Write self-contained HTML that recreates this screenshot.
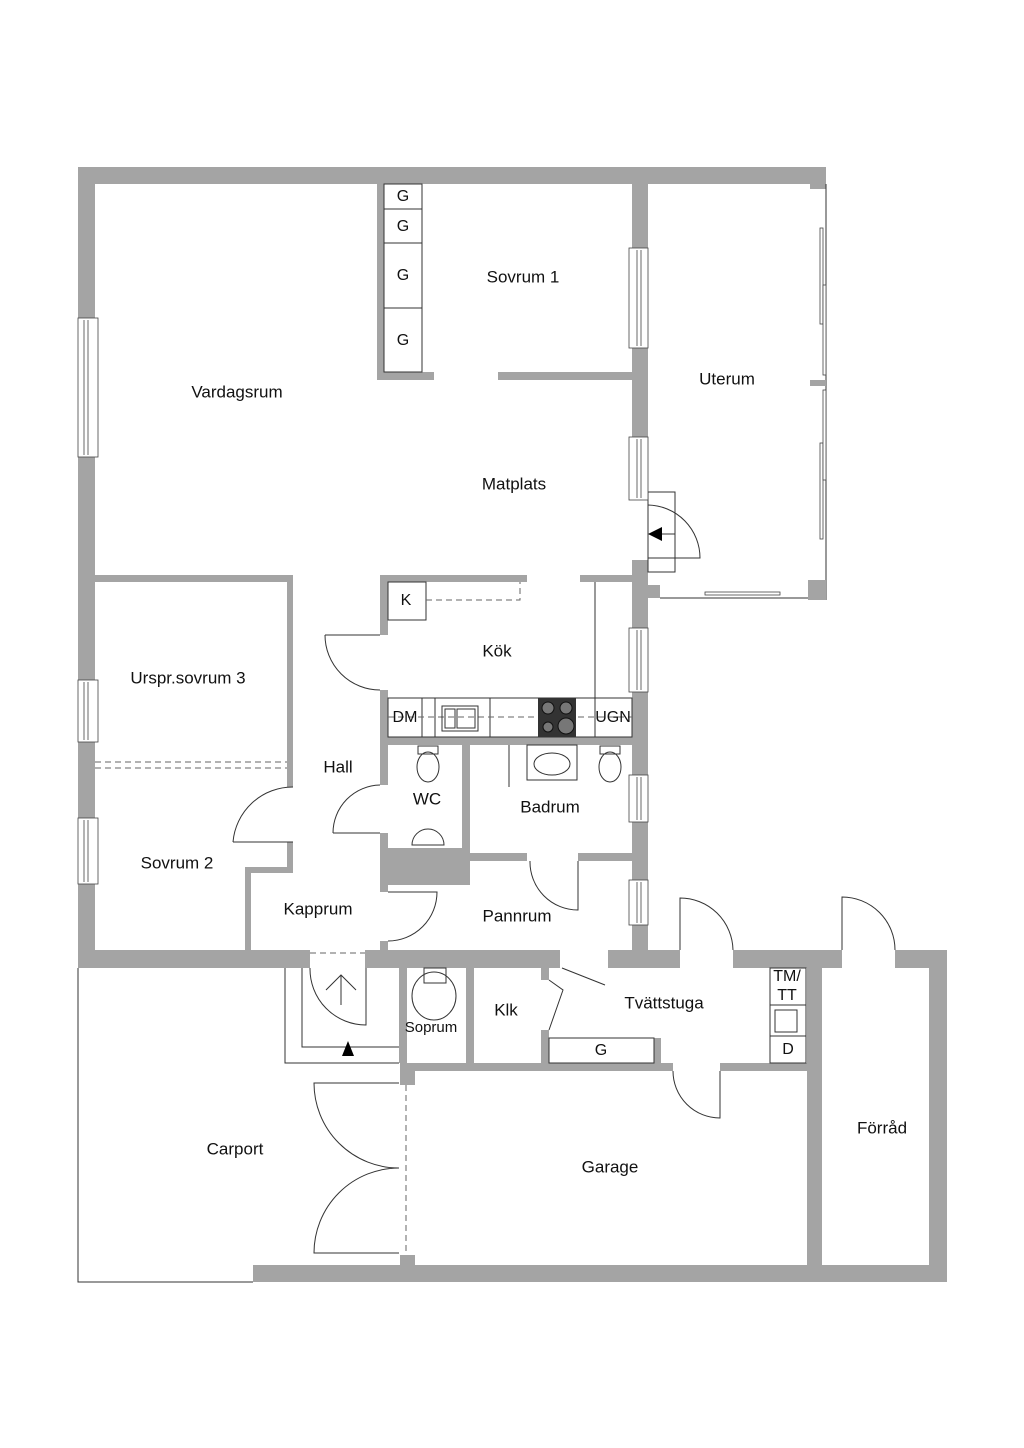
<!DOCTYPE html>
<html><head><meta charset="utf-8"><style>
html,body{margin:0;padding:0;background:#fff}
svg{display:block}
text{font-family:"Liberation Sans",sans-serif;fill:#111;text-anchor:middle;dominant-baseline:middle}
.w{fill:#a4a4a4;stroke:none}
.l{fill:none;stroke:#333;stroke-width:1}
.d{fill:none;stroke:#666;stroke-width:1;stroke-dasharray:6 4}
.win{fill:#fff;stroke:#444;stroke-width:0.8}
</style></head><body>
<svg width="1024" height="1448" viewBox="0 0 1024 1448" xmlns="http://www.w3.org/2000/svg">
<rect class="w" x="78" y="167" width="748" height="17"/>
<rect class="w" x="810" y="184" width="16" height="5"/>
<rect class="w" x="78" y="167" width="17" height="801"/>
<rect class="w" x="78" y="950" width="232" height="18"/>
<rect class="w" x="365" y="950" width="195" height="18"/>
<rect class="w" x="608" y="950" width="72" height="18"/>
<rect class="w" x="733" y="950" width="109" height="18"/>
<rect class="w" x="895" y="950" width="52" height="18"/>
<rect class="w" x="929" y="950" width="18" height="332"/>
<rect class="w" x="253" y="1265" width="694" height="17"/>
<rect class="w" x="807" y="968" width="15" height="297"/>
<rect class="w" x="399" y="968" width="8" height="95"/>
<rect class="w" x="400" y="1063" width="15" height="22"/>
<rect class="w" x="400" y="1255" width="15" height="10"/>
<rect class="w" x="400" y="1063" width="273" height="8"/>
<rect class="w" x="720" y="1063" width="87" height="8"/>
<rect class="w" x="466" y="968" width="8" height="95"/>
<rect class="w" x="541" y="968" width="8" height="12"/>
<rect class="w" x="541" y="1030" width="8" height="33"/>
<rect class="w" x="654" y="1038" width="7" height="25"/>
<rect class="w" x="632" y="184" width="16" height="316"/>
<rect class="w" x="632" y="560" width="16" height="390"/>
<rect class="w" x="648" y="585" width="12" height="13"/>
<rect class="w" x="377" y="184" width="7" height="196"/>
<rect class="w" x="377" y="372" width="57" height="8"/>
<rect class="w" x="498" y="372" width="134" height="8"/>
<line class="l" x1="826" y1="184" x2="826" y2="600"/>
<line class="l" x1="660" y1="598" x2="826" y2="598"/>
<rect class="w" x="808" y="580" width="18" height="20"/>
<rect class="w" x="810" y="380" width="16" height="6"/>
<rect class="win" x="820" y="228" width="3" height="96"/>
<rect class="win" x="823" y="285" width="3" height="90"/>
<rect class="win" x="820" y="443" width="3" height="96"/>
<rect class="win" x="823" y="390" width="3" height="90"/>
<rect class="win" x="705" y="592" width="75" height="3"/>
<rect class="w" x="95" y="575" width="198" height="7"/>
<rect class="w" x="287" y="575" width="6" height="212"/>
<rect class="w" x="287" y="842" width="6" height="30"/>
<rect class="w" x="245" y="867" width="48" height="6"/>
<rect class="w" x="245" y="867" width="6" height="83"/>
<line class="d" x1="95" y1="762" x2="287" y2="762"/>
<line class="d" x1="95" y1="768" x2="287" y2="768"/>
<rect class="w" x="380" y="575" width="147" height="7"/>
<rect class="w" x="580" y="575" width="52" height="7"/>
<rect class="w" x="380" y="575" width="8" height="60"/>
<rect class="w" x="380" y="690" width="8" height="95"/>
<rect class="w" x="380" y="833" width="8" height="55"/>
<rect class="w" x="380" y="848" width="90" height="37"/>
<rect class="w" x="462" y="737" width="8" height="148"/>
<rect class="w" x="380" y="737" width="252" height="8"/>
<rect class="w" x="380" y="883" width="8" height="9"/>
<rect class="w" x="380" y="941" width="8" height="10"/>
<rect class="w" x="470" y="853" width="57" height="8"/>
<rect class="w" x="578" y="853" width="54" height="8"/>
<line class="l" x1="595" y1="582" x2="595" y2="698"/>
<rect class="l" x="388" y="698" width="244" height="39"/>
<line class="l" x1="422" y1="698" x2="422" y2="737"/>
<line class="l" x1="435" y1="698" x2="435" y2="737"/>
<line class="l" x1="490" y1="698" x2="490" y2="737"/>
<line class="l" x1="595" y1="698" x2="595" y2="737"/>
<line class="d" x1="388" y1="717" x2="632" y2="717"/>
<rect x="538" y="698" width="38" height="39" fill="#333"/>
<circle cx="548" cy="708" r="6" fill="#777" stroke="#111"/>
<circle cx="566" cy="708" r="6" fill="#777" stroke="#111"/>
<circle cx="548" cy="727" r="5" fill="#777" stroke="#111"/>
<circle cx="566" cy="726" r="8" fill="#777" stroke="#111"/>
<rect class="l" x="442" y="706" width="36" height="25" fill="#fff"/>
<rect class="l" x="445" y="709" width="10" height="19"/>
<rect class="l" x="457" y="709" width="18" height="19"/>
<rect class="l" x="388" y="582" width="38" height="38" fill="#fff"/>
<polyline class="d" points="426,600 520,600 520,582"/>
<ellipse class="l" cx="428" cy="767" rx="11" ry="15"/>
<rect class="l" x="418" y="746" width="20" height="8"/>
<path class="l" d="M412,845 A16,16 0 1 1 444,845 Z"/>
<rect class="l" x="527" y="745" width="50" height="35"/>
<ellipse class="l" cx="552" cy="764" rx="18" ry="11"/>
<ellipse class="l" cx="610" cy="767" rx="11" ry="15"/>
<rect class="l" x="600" y="746" width="20" height="8"/>
<line class="l" x1="509" y1="745" x2="509" y2="787"/>
<path class="l" d="M325,635 L380,635 M325,635 A55,55 0 0 0 380,690"/>
<path class="l" d="M333,833 L380,833 M333,833 A48,48 0 0 1 380,785"/>
<path class="l" d="M233,842 L293,842 M233,842 A60,60 0 0 1 293,787"/>
<path class="l" d="M388,892 L437,892 A49,49 0 0 1 388,941"/>
<path class="l" d="M578,861 L578,910 A48,48 0 0 1 530,861"/>
<rect class="l" x="648" y="492" width="27" height="80"/>
<path class="l" d="M648,505 A53,53 0 0 1 700,558 L648,558"/>
<line class="l" x1="660" y1="534" x2="675" y2="534"/>
<polygon points="648,534 662,527 662,541" fill="#000"/>
<path class="l" d="M680,950 L680,898 A53,53 0 0 1 733,950"/>
<path class="l" d="M842,950 L842,897 A53,53 0 0 1 895,950"/>
<path class="l" d="M720,1071 L720,1118 A47,47 0 0 1 673,1071"/>
<path class="l" d="M366,968 L366,1025 A56,56 0 0 1 310,968"/>
<line class="d" x1="310" y1="953" x2="365" y2="953"/>
<path class="l" d="M562,968 L605,985 M549,980 L563,990 L549,1030"/>
<polyline class="l" points="285,968 285,1063 399,1063"/>
<polyline class="l" points="302,968 302,1047 399,1047"/>
<path class="l" d="M341,1005 L341,975 M326,990 L341,975 L356,990"/>
<polygon points="348,1041 342,1056 354,1056" fill="#000"/>
<polyline class="l" points="78,968 78,1282 253,1282"/>
<path class="l" d="M399,1083 L314,1083 A85,85 0 0 0 399,1168 A85,85 0 0 0 314,1253 L399,1253"/>
<line class="d" x1="406" y1="1085" x2="406" y2="1255"/>
<ellipse class="l" cx="434" cy="996" rx="22" ry="24"/>
<rect class="l" x="424" y="968" width="22" height="15" fill="#fff"/>
<rect class="l" x="549" y="1038" width="105" height="25"/>
<rect class="l" x="770" y="968" width="36" height="95"/>
<line class="l" x1="770" y1="1005" x2="806" y2="1005"/>
<line class="l" x1="770" y1="1036" x2="806" y2="1036"/>
<rect class="l" x="775" y="1010" width="22" height="22"/>
<g class="win">
<rect x="78" y="318" width="20" height="139"/><line x1="84" y1="320" x2="84" y2="455"/><line x1="88" y1="320" x2="88" y2="455"/>
<rect x="78" y="680" width="20" height="62"/><line x1="84" y1="682" x2="84" y2="740"/><line x1="88" y1="682" x2="88" y2="740"/>
<rect x="78" y="818" width="20" height="66"/><line x1="84" y1="820" x2="84" y2="882"/><line x1="88" y1="820" x2="88" y2="882"/>
<rect x="629" y="248" width="19" height="100"/><line x1="637" y1="250" x2="637" y2="346"/><line x1="641" y1="250" x2="641" y2="346"/>
<rect x="629" y="437" width="19" height="63"/><line x1="637" y1="439" x2="637" y2="498"/><line x1="641" y1="439" x2="641" y2="498"/>
<rect x="629" y="628" width="19" height="64"/><line x1="637" y1="630" x2="637" y2="690"/><line x1="641" y1="630" x2="641" y2="690"/>
<rect x="629" y="775" width="19" height="47"/><line x1="637" y1="777" x2="637" y2="820"/><line x1="641" y1="777" x2="641" y2="820"/>
<rect x="629" y="880" width="19" height="45"/><line x1="637" y1="882" x2="637" y2="923"/><line x1="641" y1="882" x2="641" y2="923"/>
</g>
<rect class="l" x="384" y="184" width="38" height="188"/>
<line class="l" x1="384" y1="209" x2="422" y2="209"/>
<line class="l" x1="384" y1="243" x2="422" y2="243"/>
<line class="l" x1="384" y1="308" x2="422" y2="308"/>
<g font-size="16">
<text x="403" y="197">G</text><text x="403" y="227">G</text><text x="403" y="276">G</text><text x="403" y="341">G</text>
<text x="406" y="601">K</text><text x="405" y="718">DM</text><text x="613" y="718">UGN</text>
<text x="601" y="1051">G</text><text x="787" y="977">TM/</text><text x="787" y="996">TT</text><text x="788" y="1050">D</text>
</g>
<g font-size="17">
<text x="523" y="278">Sovrum 1</text>
<text x="237" y="393">Vardagsrum</text>
<text x="727" y="380">Uterum</text>
<text x="514" y="485">Matplats</text>
<text x="497" y="652">Kök</text>
<text x="188" y="679">Urspr.sovrum 3</text>
<text x="338" y="768">Hall</text>
<text x="427" y="800">WC</text>
<text x="550" y="808">Badrum</text>
<text x="177" y="864">Sovrum 2</text>
<text x="318" y="910">Kapprum</text>
<text x="517" y="917">Pannrum</text>
<text x="664" y="1004">Tvättstuga</text>
<text x="506" y="1011">Klk</text>
<text x="431" y="1028" font-size="15">Soprum</text>
<text x="235" y="1150">Carport</text>
<text x="610" y="1168">Garage</text>
<text x="882" y="1129">Förråd</text>
</g>
</svg>
</body></html>
